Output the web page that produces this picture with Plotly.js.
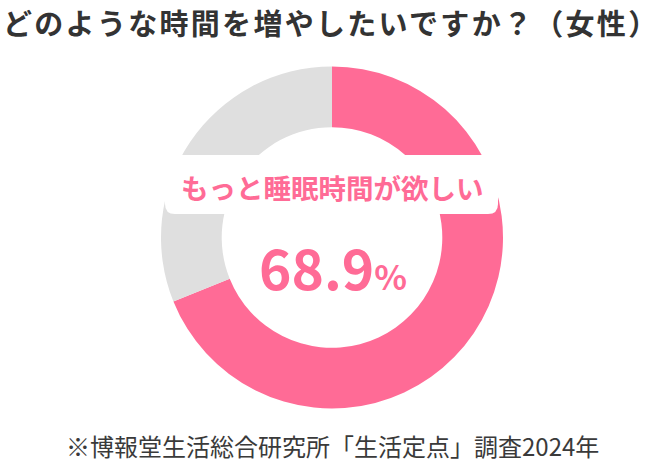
<!DOCTYPE html>
<html>
<head>
<meta charset="utf-8">
<script src="https://cdn.plot.ly/plotly-3.0.1.min.js"></script>
<style>
  html, body { margin: 0; padding: 0; background: #fff; }
  #chart { width: 664px; height: 469px; }
</style>
</head>
<body>
<div id="chart"></div>
<script>
    // --- DATA ---
    const titleText = 'どのような時間を増やしたいですか？（女性）';
    const categories = ['もっと睡眠時間が欲しい', 'その他'];
    const shares = [68.9, 31.1];
    const sliceColors = ['#FF6B96', '#DFDFDF'];
    const sourceText = '※博報堂生活総合研究所「生活定点」調査2024年';

    const pink = sliceColors[0];
    const fontJP = '"Noto Sans CJK JP", "Noto Sans", sans-serif';

    // rounded white box behind the label (pixel -> paper helpers)
    const W = 664, H = 469;
    const px = x => x / W;
    const py = y => 1 - y / H;
    function roundedBox(x0, y0, x1, y1, r) {
        const pts = [
            `M ${px(x0 + r)} ${py(y0)}`,
            `L ${px(x1 - r)} ${py(y0)}`,
            `Q ${px(x1)} ${py(y0)} ${px(x1)} ${py(y0 + r)}`,
            `L ${px(x1)} ${py(y1 - r)}`,
            `Q ${px(x1)} ${py(y1)} ${px(x1 - r)} ${py(y1)}`,
            `L ${px(x0 + r)} ${py(y1)}`,
            `Q ${px(x0)} ${py(y1)} ${px(x0)} ${py(y1 - r)}`,
            `L ${px(x0)} ${py(y0 + r)}`,
            `Q ${px(x0)} ${py(y0)} ${px(x0 + r)} ${py(y0)}`,
            'Z'
        ];
        return pts.join(' ');
    }

    const data = [{
        type: 'pie',
        labels: categories,
        values: shares,
        hole: 0.645,
        sort: false,
        direction: 'clockwise',
        rotation: 0,
        textinfo: 'none',
        hoverinfo: 'label+percent',
        marker: { colors: sliceColors, line: { width: 0 } },
        domain: { x: [px(161), px(503)], y: [py(409), py(66)] },
        showlegend: false
    }];

    const layout = {
        width: W,
        height: H,
        margin: { l: 0, r: 0, t: 0, b: 0 },
        paper_bgcolor: '#fff',
        font: { family: fontJP },
        shapes: [{
            type: 'path',
            xref: 'paper', yref: 'paper',
            path: roundedBox(165, 155, 498, 214, 10),
            fillcolor: '#fff',
            line: { width: 0 }
        }],
        annotations: [
            {
                text: '<span style="letter-spacing:2.3px"><b>' + titleText + '</b></span>',
                xref: 'paper', yref: 'paper',
                x: px(1), y: py(22),
                xanchor: 'left', yanchor: 'middle',
                showarrow: false,
                font: { size: 29, color: '#333333', family: fontJP }
            },
            {
                text: '<b>' + categories[0] + '</b>',
                xref: 'paper', yref: 'paper',
                x: px(332), y: py(187),
                xanchor: 'center', yanchor: 'middle',
                showarrow: false,
                font: { size: 27.5, color: pink, family: fontJP }
            },
            {
                text: '<b>' + shares[0].toFixed(1) + '</b><span style="font-size:34px"><b>%</b></span>',
                xref: 'paper', yref: 'paper',
                x: px(333), y: py(266),
                xanchor: 'center', yanchor: 'middle',
                showarrow: false,
                font: { size: 55, color: pink, family: fontJP }
            },
            {
                text: sourceText,
                xref: 'paper', yref: 'paper',
                x: px(332), y: py(445),
                xanchor: 'center', yanchor: 'middle',
                showarrow: false,
                font: { size: 24, color: '#3a3a3a', family: fontJP }
            }
        ]
    };

    Plotly.newPlot('chart', data, layout, { displayModeBar: false, staticPlot: true });
</script>
</body>
</html>
